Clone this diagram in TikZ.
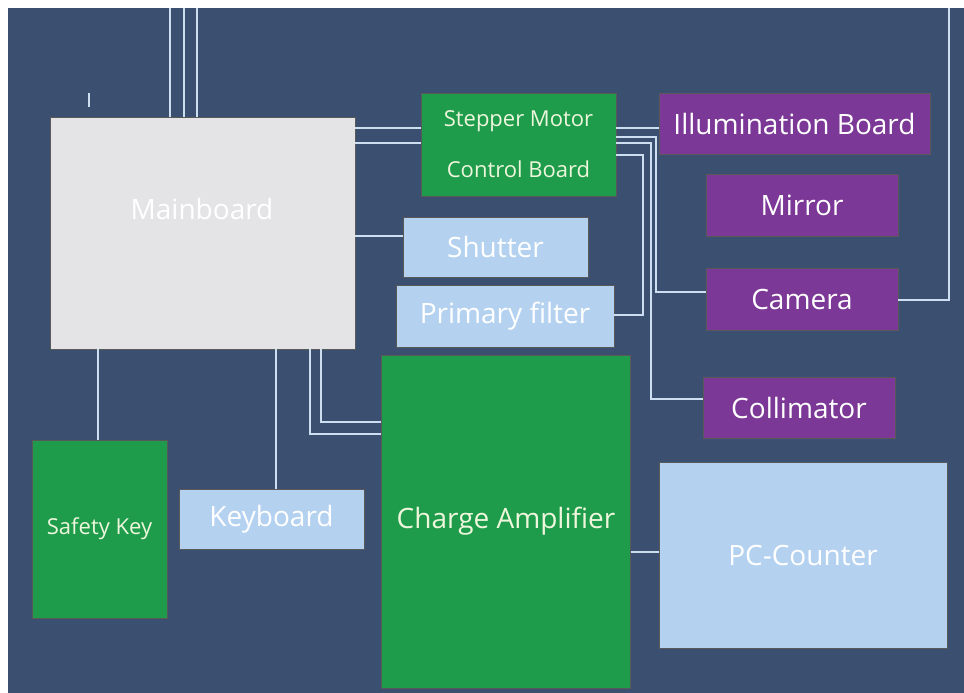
\documentclass[tikz,border=0pt]{standalone}
\usepackage{fontspec}
\setmainfont{Open Sans}
\usetikzlibrary{positioning,calc}
\definecolor{bgblue}{RGB}{59,79,112}
\definecolor{mainfill}{RGB}{228,228,231}
\definecolor{boardgreen}{RGB}{30,156,76}
\definecolor{unitpurple}{RGB}{124,56,150}
\definecolor{partblue}{RGB}{180,210,240}
\definecolor{wirecol}{RGB}{205,222,240}
\definecolor{greentext}{RGB}{238,246,220}

\begin{document}
\begin{tikzpicture}[x=1pt,y=-1pt,
    blk/.style={draw=black!65, line width=0.8pt, inner sep=0pt, text=white,
      font=\fontsize{28}{32}\selectfont},
    grn/.style={blk, fill=boardgreen, text=greentext},
    prp/.style={blk, fill=unitpurple},
    lbl/.style={blk, fill=partblue},
    small/.style={font=\fontsize{22}{26}\selectfont},
    wire/.style={draw=wirecol, line width=1.4pt}
  ]
    \useasboundingbox (0,0) rectangle (964,693);
    \fill[white] (0,0) rectangle (964,693);
    \fill[bgblue] (8,8) rectangle (964,693);

    % boards and units
    \node[blk, fill=mainfill, minimum width=305pt, minimum height=232pt] (main) at (202.5,233) {};
    \node[text=white, font=\fontsize{28}{32}\selectfont] (maintxt) at (202,209) {Mainboard};
    \node[grn, minimum width=195pt, minimum height=103pt, align=center,
      font=\fontsize{22}{51}\selectfont] (stepper) at (518.5,144.5) {Stepper Motor\\Control Board};
    \node[prp, minimum width=271pt, minimum height=61pt] (illum) at (794.5,123.5) {Illumination Board};
    \node[prp, minimum width=192pt, minimum height=62pt] (mirror) at (802,205) {Mirror};
    \node[prp, minimum width=192pt, minimum height=62pt] (camera) at (802,299) {Camera};
    \node[prp, minimum width=192pt, minimum height=61pt] (collim) at (799,407.5) {Collimator};
    \node[lbl, minimum width=185pt, minimum height=60pt] (shutter) at (495.5,247) {Shutter};
    \node[lbl, minimum width=218pt, minimum height=62pt] (filter) at (505,316) {Primary filter};
    \node[grn, minimum width=249pt, minimum height=333pt] (amp) at (506,521.5) {Charge Amplifier};
    \node[lbl, minimum width=288pt, minimum height=186pt] (pccount) at (803,555) {PC-Counter};
    \node[grn, small, minimum width=135pt, minimum height=178pt] (safety) at (99.5,529) {Safety Key};
    \node[lbl, minimum width=185pt, minimum height=60pt] (keyb) at (271.5,519) {Keyboard};

    \coordinate (topA) at (170,8);
    \coordinate (topB) at (184,8);
    \coordinate (topC) at (197,8);
    \coordinate (topR) at (949,8);

    % wiring
    \draw[wire] (topA) -- (topA |- main.north);
    \draw[wire] (topB) -- (topB |- main.north);
    \draw[wire] (topC) -- (topC |- main.north);
    \draw[wire] (89,93) -- (89,107);
    \draw[wire] (main.east |- 0,128) -- (stepper.west |- 0,128);
    \draw[wire] (main.east |- 0,143) -- (stepper.west |- 0,143);
    \draw[wire] (main.east |- 0,236) -- (shutter.west |- 0,236);
    \draw[wire] (stepper.east |- 0,128) -- (illum.west |- 0,128);
    \draw[wire] (stepper.east |- 0,137) -| (656,292) -- (camera.west |- 0,292);
    \draw[wire] (stepper.east |- 0,143) -| (651,399) -- (collim.west |- 0,399);
    \draw[wire] (stepper.east |- 0,155) -| (643,315) -- (filter.east |- 0,315);
    \draw[wire] (camera.east |- 0,300) -| (topR);
    \draw[wire] (main.south -| 98,0) -- (safety.north -| 98,0);
    \draw[wire] (main.south -| 276,0) -- (keyb.north -| 276,0);
    \draw[wire] (main.south -| 310,0) |- (amp.west |- 0,434);
    \draw[wire] (main.south -| 321,0) |- (amp.west |- 0,422);
    \draw[wire] (amp.east |- 0,552) -- (pccount.west |- 0,552);
  \end{tikzpicture}
\end{document}
